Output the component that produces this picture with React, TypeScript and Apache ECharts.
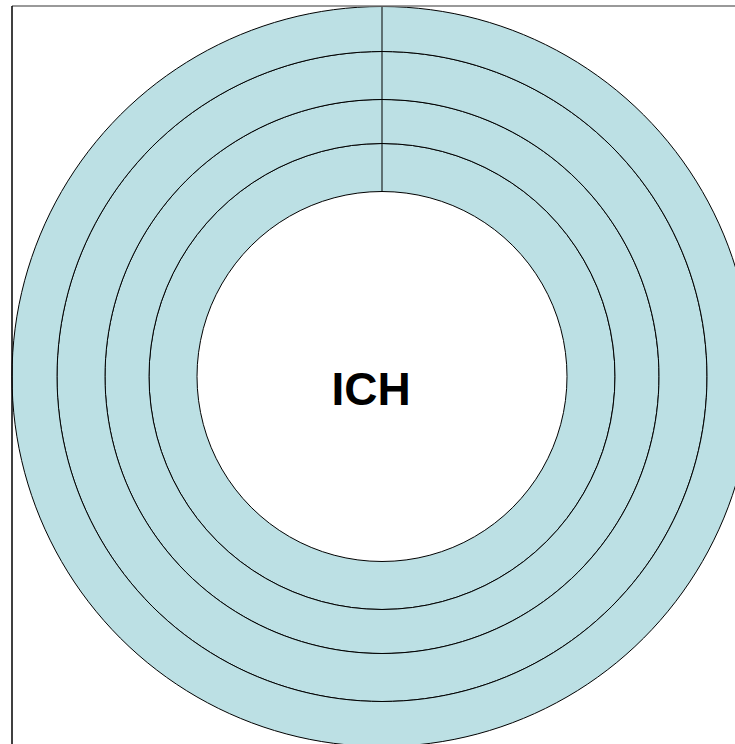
import React, { useEffect, useRef } from "react";
import * as echarts from "echarts";

const ringNames = ["Ring 1", "Ring 2", "Ring 3", "Ring 4"];
const ringValues = [1, 1, 1, 1];
const ringRadii = [185, 233, 277, 325, 370];
const centerLabel = "ICH";

export default function App() {
  const ref = useRef<HTMLDivElement>(null);
  useEffect(() => {
    if (!ref.current) return;
    const chart = echarts.init(ref.current, null, { renderer: "svg" });
    const cx = 382;
    const cy = 376.5;
    const series = ringNames.map((name, i) => ({
      type: "pie",
      name,
      center: [cx, cy],
      radius: [ringRadii[i], ringRadii[i + 1]],
      startAngle: 90,
      clockwise: true,
      silent: true,
      label: { show: false },
      labelLine: { show: false },
      itemStyle: { color: "#BCE0E4", borderColor: "#000", borderWidth: 1 },
      data: [{ name, value: ringValues[i] }],
    }));
    chart.setOption({
      animation: false,
      backgroundColor: "#fff",
      series,
      graphic: [
        {
          type: "line",
          z: 10,
          shape: { x1: cx, y1: cy - ringRadii[0], x2: cx, y2: cy - ringRadii[ringRadii.length - 1] },
          style: { stroke: "#000", lineWidth: 1 },
        },
        {
          type: "line",
          z: 10,
          shape: { x1: 12, y1: 6, x2: 735, y2: 6 },
          style: { stroke: "#777", lineWidth: 1.5 },
        },
        {
          type: "line",
          z: 10,
          shape: { x1: 12, y1: 6, x2: 12, y2: 744 },
          style: { stroke: "#000", lineWidth: 1.5 },
        },
        {
          type: "text",
          z: 10,
          x: 371,
          y: 389,
          style: {
            text: centerLabel,
            fill: "#000",
            font: "bold 46px 'Liberation Sans', Arial, sans-serif",
            textAlign: "center",
            textVerticalAlign: "middle",
          },
        },
      ],
    });
    return () => chart.dispose();
  }, []);
  return (
    <div
      ref={ref}
      style={{ position: "fixed", left: 0, top: 0, width: 735, height: 744 }}
    />
  );
}
